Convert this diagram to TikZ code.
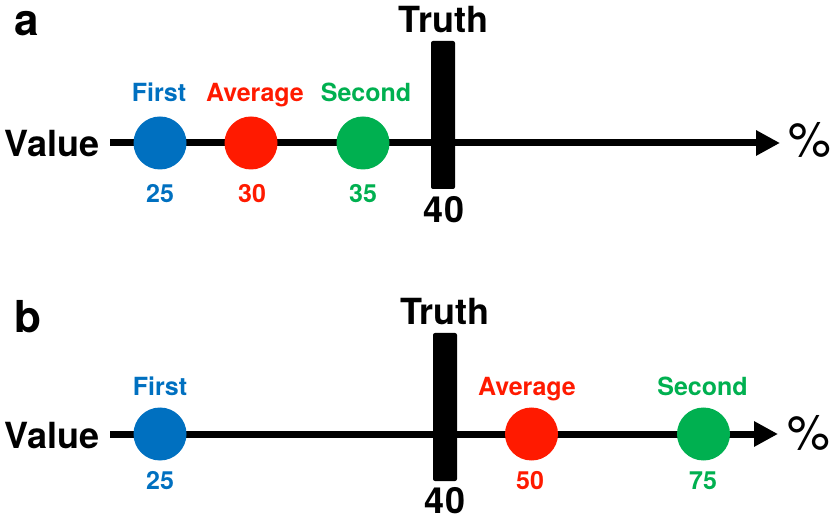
\documentclass[tikz,border=0pt]{standalone}
\usepackage{fontspec}
\setmainfont{TeX Gyre Heros}
\usetikzlibrary{arrows.meta}

\definecolor{firstblue}{HTML}{0070C0}
\definecolor{avgred}{HTML}{FF1A00}
\definecolor{secondgreen}{HTML}{00B050}

\begin{document}
\begin{tikzpicture}[x=0.5pt,y=-0.5pt,
  axis/.style={line width=3.5pt,-{Triangle[length=12pt,width=12pt]}},
  dot/.style={circle,inner sep=0pt,minimum size=26.5pt},
  bar/.style={fill=black,rounded corners=1pt,inner sep=0pt,minimum width=12pt,minimum height=74pt},
  big/.style={anchor=base,inner sep=0pt,font=\bfseries\fontsize{18}{20}\selectfont},
  small/.style={anchor=base,inner sep=0pt,font=\bfseries\fontsize{12.5}{14}\selectfont},
  panel/.style={anchor=base west,inner sep=0pt,font=\bfseries\fontsize{22}{24}\selectfont},
  pct/.style={anchor=base west,inner sep=0pt,font=\fontsize{24}{26}\selectfont}]

\useasboundingbox (0,0) rectangle (838,522);

% panel a
\node[panel] (laba) at (14,36) {a};
\node[big] (vala) at (52,157) {Value};
\coordinate (starta) at (110,143);
\coordinate (enda) at (780,143);
\draw[axis] (starta) -- (enda);
\node[pct] (pcta) at (788,157) {\%};

\node[dot,fill=firstblue] (firsta) at (160,143) {};
\node[dot,fill=avgred] (avga) at (251,143) {};
\node[dot,fill=secondgreen] (seconda) at (363,143) {};

\node[small,text=firstblue] (firstlaba) at (159,101.5) {First};
\node[small,text=avgred] (avglaba) at (255,101.5) {Average};
\node[small,text=secondgreen] (secondlaba) at (366,101.5) {Second};

\node[small,text=firstblue] (firstnuma) at (160,203) {25};
\node[small,text=avgred] (avgnuma) at (252,203) {30};
\node[small,text=secondgreen] (secondnuma) at (363,203) {35};

\node[bar] (truthbara) at (443,115) {};
\node[big] (truthlaba) at (443.5,33) {Truth};
\node[big] (truthnuma) at (444,223) {40};

% panel b
\node[panel] (labb) at (14,333) {b};
\node[big] (valb) at (52,448) {Value};
\coordinate (startb) at (110,434);
\coordinate (endb) at (778,434);
\draw[axis] (startb) -- (endb);
\node[pct] (pctb) at (787,449) {\%};

\node[dot,fill=firstblue] (firstb) at (160,434) {};
\node[dot,fill=avgred] (avgb) at (531.5,434) {};
\node[dot,fill=secondgreen] (secondb) at (703.5,434) {};

\node[small,text=firstblue] (firstlabb) at (160,395) {First};
\node[small,text=avgred] (avglabb) at (527,395) {Average};
\node[small,text=secondgreen] (secondlabb) at (702.5,395) {Second};

\node[small,text=firstblue] (firstnumb) at (160,489) {25};
\node[small,text=avgred] (avgnumb) at (530,489) {50};
\node[small,text=secondgreen] (secondnumb) at (703,489) {75};

\node[bar] (truthbarb) at (445,407) {};
\node[big] (truthlabb) at (445,325) {Truth};
\node[big] (truthnumb) at (445,513) {40};

\end{tikzpicture}
\end{document}
